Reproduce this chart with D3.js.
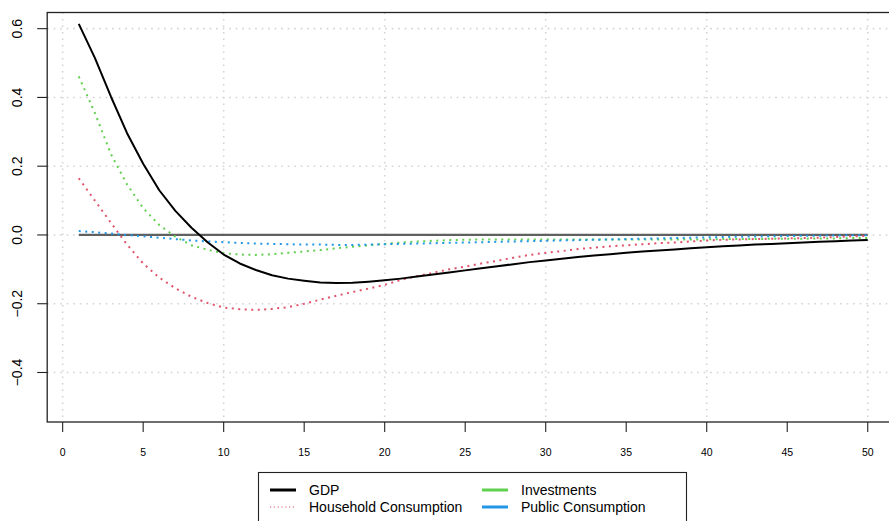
<!DOCTYPE html>
<html>
<head>
<meta charset="utf-8">
<script src="https://cdn.jsdelivr.net/npm/d3@7"></script>
<style>
  html, body { margin: 0; padding: 0; background: #fff; }
  svg { display: block; font-family: "Liberation Sans", Arial, Helvetica, sans-serif; }
</style>
</head>
<body>
<svg id="chart" width="889" height="521"></svg>
<script>
// Impulse responses over horizons 1..50
const horizons = d3.range(1, 51);

const gdp = [
  0.614, 0.515, 0.402, 0.296, 0.207, 0.130, 0.070, 0.021, -0.021, -0.057,
  -0.083, -0.102, -0.117, -0.127, -0.133, -0.138, -0.140, -0.139, -0.136, -0.132,
  -0.127, -0.121, -0.115, -0.109, -0.103, -0.097, -0.091, -0.085, -0.079, -0.074,
  -0.069, -0.064, -0.060, -0.056, -0.052, -0.048, -0.045, -0.042, -0.039, -0.036,
  -0.033, -0.031, -0.028, -0.026, -0.024, -0.022, -0.020, -0.018, -0.016, -0.015
];

const household = [
  0.165, 0.100, 0.035, -0.028, -0.083, -0.124, -0.155, -0.180, -0.198, -0.211,
  -0.216, -0.218, -0.215, -0.210, -0.200, -0.188, -0.177, -0.166, -0.156, -0.145,
  -0.131, -0.120, -0.110, -0.100, -0.092, -0.083, -0.075, -0.066, -0.058, -0.052,
  -0.047, -0.041, -0.037, -0.033, -0.030, -0.027, -0.024, -0.022, -0.019, -0.016,
  -0.014, -0.013, -0.012, -0.011, -0.010, -0.009, -0.008, -0.006, -0.004, -0.003
];

const investments = [
  0.461, 0.355, 0.235, 0.147, 0.078, 0.029, -0.005, -0.030, -0.043, -0.053,
  -0.057, -0.058, -0.056, -0.052, -0.048, -0.044, -0.039, -0.034, -0.030, -0.026,
  -0.022, -0.019, -0.017, -0.015, -0.014, -0.013, -0.013, -0.013, -0.013, -0.013,
  -0.013, -0.013, -0.013, -0.013, -0.013, -0.013, -0.013, -0.013, -0.013, -0.013,
  -0.012, -0.012, -0.012, -0.011, -0.011, -0.011, -0.010, -0.010, -0.009, -0.009
];

const publicCons = [
  0.0115, 0.008, 0.004, 0.000, -0.004, -0.008, -0.012, -0.016, -0.019, -0.021,
  -0.023, -0.025, -0.026, -0.027, -0.028, -0.028, -0.029, -0.029, -0.028, -0.027,
  -0.026, -0.025, -0.024, -0.023, -0.022, -0.021, -0.020, -0.019, -0.018, -0.017,
  -0.016, -0.015, -0.014, -0.013, -0.012, -0.011, -0.010, -0.009, -0.008, -0.007,
  -0.006, -0.005, -0.0045, -0.004, -0.003, -0.0025, -0.002, -0.0015, -0.001, -0.0005
];

const zeroLine = horizons.map(() => 0);

const xTicks = [0, 5, 10, 15, 20, 25, 30, 35, 40, 45, 50];
const xGrid = [0, 10, 20, 30, 40, 50];
const yTicks = [-0.4, -0.2, 0.0, 0.2, 0.4, 0.6];

const seriesNames = ["GDP", "Household Consumption", "Investments", "Public Consumption"];
const seriesColors = ["#000000", "#DF536B", "#61D04F", "#2297E6"];

const svg = d3.select("#chart");

const plot = { left: 47.2, top: 12.5, right: 899.3, bottom: 422 };

const x = d3.scaleLinear().domain([-0.96, 51.96]).range([plot.left, plot.right]);
const y = d3.scaleLinear().domain([-0.544, 0.647]).range([plot.bottom, plot.top]);

svg.append("defs").append("clipPath").attr("id", "plot-clip")
  .append("rect")
  .attr("x", plot.left).attr("y", plot.top)
  .attr("width", plot.right - plot.left).attr("height", plot.bottom - plot.top);

// dotted grid
const grid = svg.append("g").attr("clip-path", "url(#plot-clip)")
  .attr("stroke", "#d3d3d3").attr("stroke-width", 1.6)
  .attr("stroke-dasharray", "1.6 4.9");
grid.selectAll("line.h").data(yTicks).join("line").attr("class", "h")
  .attr("x1", plot.left).attr("x2", plot.right)
  .attr("y1", d => y(d)).attr("y2", d => y(d));
grid.selectAll("line.v").data(xGrid).join("line").attr("class", "v")
  .attr("x1", d => x(d)).attr("x2", d => x(d))
  .attr("y1", plot.top).attr("y2", plot.bottom);

const line = d3.line().x((d, i) => x(horizons[i])).y(d => y(d));

const lines = svg.append("g").attr("clip-path", "url(#plot-clip)").attr("fill", "none");

// zero reference
lines.append("path").datum(zeroLine).attr("d", line)
  .attr("stroke", "#606060").attr("stroke-width", 2.2);

const dotted = [
  { data: household, color: seriesColors[1] },
  { data: investments, color: seriesColors[2] },
  { data: publicCons, color: seriesColors[3] }
];
dotted.forEach(s => {
  lines.append("path").datum(s.data).attr("d", line)
    .attr("stroke", s.color).attr("stroke-width", 2)
    .attr("stroke-dasharray", "2 4.5");
});

lines.append("path").datum(gdp).attr("d", line)
  .attr("stroke", seriesColors[0]).attr("stroke-width", 2)
  .attr("stroke-linejoin", "round");

// plot frame
svg.append("rect")
  .attr("x", plot.left).attr("y", plot.top)
  .attr("width", plot.right - plot.left).attr("height", plot.bottom - plot.top)
  .attr("fill", "none").attr("stroke", "#222").attr("stroke-width", 1.3);

// x axis
const xAxis = svg.append("g");
xAxis.selectAll("line").data(xTicks).join("line")
  .attr("x1", d => x(d)).attr("x2", d => x(d))
  .attr("y1", plot.bottom).attr("y2", plot.bottom + 10)
  .attr("stroke", "#222").attr("stroke-width", 1.1);
xAxis.selectAll("text").data(xTicks).join("text")
  .attr("x", d => x(d)).attr("y", 456)
  .attr("text-anchor", "middle").attr("font-size", 10.5).attr("fill", "#000")
  .text(d => d);

// y axis
const yAxis = svg.append("g");
yAxis.selectAll("line").data(yTicks).join("line")
  .attr("x1", plot.left - 10).attr("x2", plot.left)
  .attr("y1", d => y(d)).attr("y2", d => y(d))
  .attr("stroke", "#222").attr("stroke-width", 1.1);
yAxis.selectAll("text").data(yTicks).join("text")
  .attr("transform", d => `translate(22,${y(d)}) rotate(-90)`)
  .attr("text-anchor", "middle").attr("font-size", 14).attr("fill", "#000")
  .text(d => d3.format(".1f")(d).replace("-", "\u2212"));

// legend
const legend = svg.append("g");
legend.append("rect")
  .attr("x", 258.5).attr("y", 472.5).attr("width", 428).attr("height", 60)
  .attr("fill", "#fff").attr("stroke", "#222").attr("stroke-width", 1.1);

const legendItems = [
  { name: seriesNames[0], color: seriesColors[0], lx: 270, ly: 490, dash: null, w: 3 },
  { name: seriesNames[1], color: seriesColors[1], lx: 270, ly: 507, dash: "1.2 2.6", w: 1.2 },
  { name: seriesNames[2], color: seriesColors[2], lx: 482, ly: 490, dash: null, w: 3 },
  { name: seriesNames[3], color: seriesColors[3], lx: 482, ly: 507, dash: null, w: 3 }
];
legendItems.forEach(it => {
  const l = legend.append("line")
    .attr("x1", it.lx).attr("x2", it.lx + 26)
    .attr("y1", it.ly).attr("y2", it.ly)
    .attr("stroke", it.color).attr("stroke-width", it.w);
  if (it.dash) l.attr("stroke-dasharray", it.dash);
  legend.append("text")
    .attr("x", it.lx + 39).attr("y", it.ly + 5)
    .attr("font-size", 14).attr("fill", "#000")
    .text(it.name);
});
</script>
</body>
</html>
